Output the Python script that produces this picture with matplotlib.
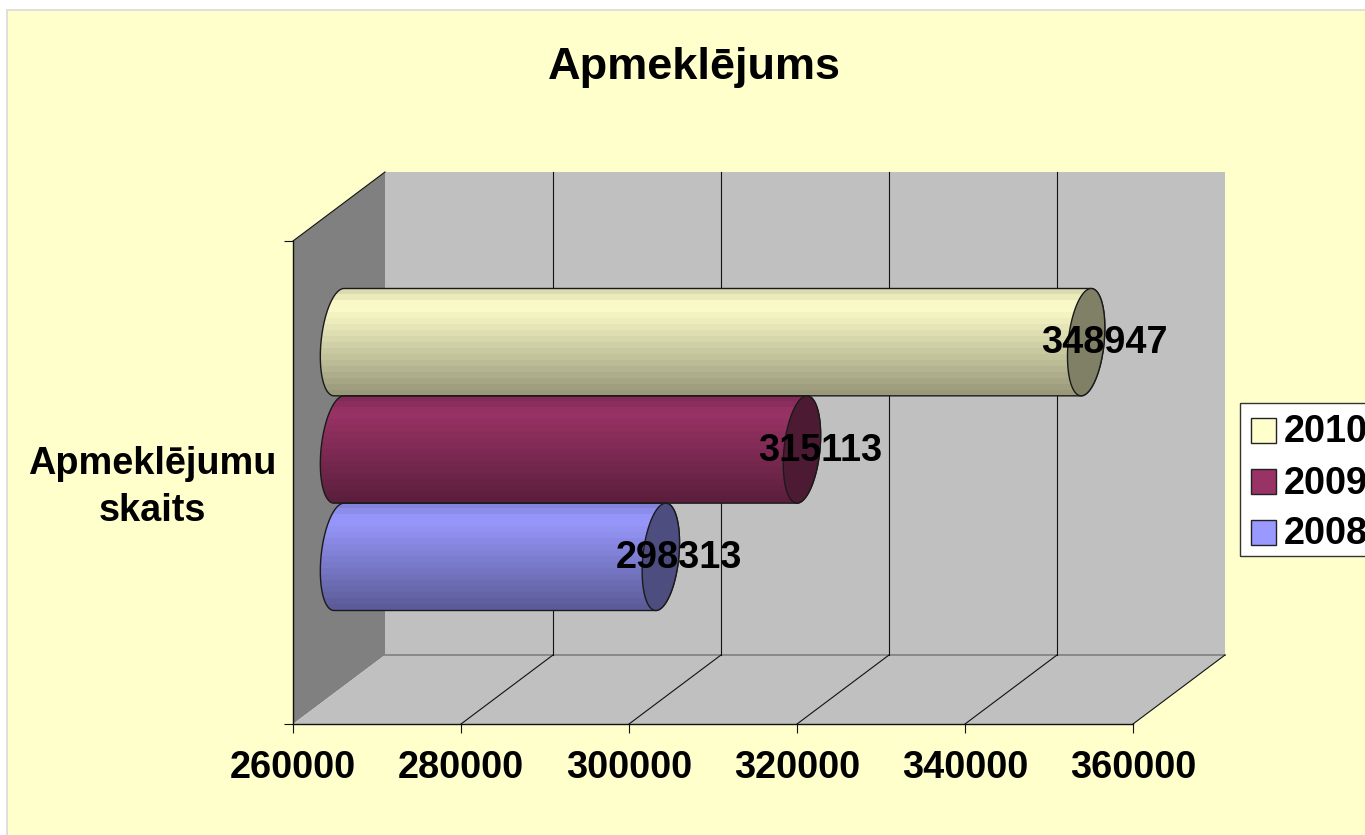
import numpy as np
import matplotlib
matplotlib.use('Agg')
import matplotlib.pyplot as plt
from matplotlib.patches import PathPatch, Polygon, Rectangle
from matplotlib.path import Path
from matplotlib.transforms import Affine2D, IdentityTransform

plt.rcParams['font.family'] = ['Liberation Sans', 'DejaVu Sans']
plt.rcParams['font.weight'] = 'bold'

# Data
title = 'Apmeklējums'
category = 'Apmeklējumu\nskaits'
years = ['2008', '2009', '2010']
values = [298313, 315113, 348947]
x_ticks = [260000, 280000, 300000, 320000, 340000, 360000]

colors = ['#9999ff', '#993366', '#ffffcc']
cap_colors = ['#4d4d80', '#4d1a33', '#808066']

W, H = 1365, 835
DEPTH_X, DEPTH_Y = 92, 69
FONT = 27.3


def px_x(x):
    return x / W


def px_y(y):
    return 1 - y / H


fig = plt.figure(figsize=(W / 100, H / 100), dpi=100, facecolor='white')
fig.add_artist(Rectangle((px_x(7), -0.01), 1, px_y(10) + 0.01, transform=fig.transFigure,
                         facecolor='#ffffcc', edgecolor='#d9d9d9', linewidth=1.2, zorder=-1))

ax = fig.add_axes([px_x(293), px_y(724), 840 / W, 483 / H])
ax.patch.set_visible(False)
ax.autoscale(False)
ax.set_xlim(x_ticks[0], x_ticks[-1])
ax.set_ylim(-1.25, 3.25)
x0, x1 = ax.get_xlim()
y0, y1 = ax.get_ylim()

# Walls and floor of the fake 3D box
back = ax.transData + Affine2D().translate(DEPTH_X, DEPTH_Y)
mid = ax.transData + Affine2D().translate(DEPTH_X / 2, DEPTH_Y / 2 - 1.5)
ax.add_patch(Polygon([(x0, y0), (x1, y0), (x1, y1), (x0, y1)], transform=back,
                     facecolor='#c0c0c0', edgecolor='none', clip_on=False, zorder=1))
corner = ax.transData.transform([(x0, y0), (x0, y1), (x1, y0)])
back_corner = back.transform([(x0, y0), (x0, y1), (x1, y0)])
ax.add_patch(Polygon([corner[1], back_corner[1], back_corner[0], corner[0]],
                     transform=IdentityTransform(), facecolor='#808080',
                     edgecolor='none', clip_on=False, zorder=1.1))
ax.add_patch(Polygon([corner[0], corner[2], back_corner[2], back_corner[0]],
                     transform=IdentityTransform(), facecolor='#c0c0c0',
                     edgecolor='none', clip_on=False, zorder=1.1))
ax.plot([x0, x1], [y0, y0], transform=back, color='#808080', lw=1.2, clip_on=False, zorder=1.2)

# Grid lines on back wall and floor
for t in x_ticks:
    if t != x0:
        p = ax.transData.transform((t, y0))
        q = back.transform((t, y0))
        ax.plot([p[0], q[0]], [p[1], q[1]], transform=IdentityTransform(),
                color='#111111', lw=0.8, clip_on=False, zorder=1.3)
    if t != x0 and t != x1:
        ax.plot([t, t], [y0, y1], transform=back, color='#111111', lw=0.8,
                clip_on=False, zorder=1.3)
ax.plot([corner[1][0], back_corner[1][0]], [corner[1][1], back_corner[1][1]],
        transform=IdentityTransform(), color='#111111', lw=0.8, clip_on=False, zorder=1.3)

# Cylinders
factors = np.interp(np.linspace(0, 1, 18), [0, 0.14, 1], [0.86, 1.0, 0.6])


def ellipse_points(cx, cy, a, b, s, t):
    return np.column_stack([cx + a * np.cos(t) + s * np.sin(t), cy + b * np.sin(t)])


for i, (val, col, cap) in enumerate(zip(values, colors, cap_colors)):
    left = mid.transform((x0, i - 0.5))
    right = mid.transform((val, i - 0.5))
    top = mid.transform((x0, i + 0.5))
    b = (top[1] - left[1]) / 2
    cy = left[1] + b
    a, s = 18, 5
    t_left = np.linspace(np.pi / 2, 3 * np.pi / 2, 50)
    t_right = np.linspace(-np.pi / 2, np.pi / 2, 50)
    outline = np.vstack([ellipse_points(left[0], cy, a, b, s, t_left),
                         ellipse_points(right[0], cy, a, b, s, t_right)])
    body = PathPatch(Path(np.vstack([outline, outline[:1]]), closed=True),
                     transform=IdentityTransform(), facecolor='none',
                     edgecolor='#1a1a1a', lw=1.0, clip_on=False, zorder=3.2)
    ax.add_patch(body)
    rgb = np.array(matplotlib.colors.to_rgb(col))
    grad = factors[:, None, None] * rgb[None, None, :]
    clip = PathPatch(Path(np.vstack([outline, outline[:1]]), closed=True),
                     transform=IdentityTransform(), facecolor='none', edgecolor='none')
    ax.add_patch(clip)
    im = ax.imshow(grad, extent=(left[0] - a - 5, right[0] + a + 5, cy - b, cy + b),
                   transform=IdentityTransform(), aspect='auto', origin='upper',
                   interpolation='nearest', zorder=3)
    im.set_clip_path(clip)
    t_all = np.linspace(0, 2 * np.pi, 100)
    ax.add_patch(Polygon(ellipse_points(right[0], cy, a, b, s, t_all),
                         transform=IdentityTransform(), facecolor=cap,
                         edgecolor='#1a1a1a', lw=1.0, clip_on=False, zorder=3.3))
    ax.annotate(str(val), xy=(val, i), xycoords=mid,
                xytext=(a, -1), textcoords='offset pixels', ha='center', va='center',
                fontsize=FONT, fontweight='bold', color='black', zorder=5)

ax.set_xlim(x0, x1)
ax.set_ylim(y0, y1)

# Axes
for side in ['top', 'right']:
    ax.spines[side].set_visible(False)
for side in ['left', 'bottom']:
    ax.spines[side].set_linewidth(1.0)
    ax.spines[side].set_color('#111111')
    ax.spines[side].set_zorder(2)
ax.set_xticks(x_ticks)
ax.set_xticklabels([str(t) for t in x_ticks], fontsize=FONT, fontweight='bold')
ax.set_yticks([y0, y1])
ax.set_yticklabels(['', ''])
ax.tick_params(axis='both', length=6.5, width=0.8, color='#111111')
ax.tick_params(axis='x', pad=12)
ax.set_ylabel(category, rotation=0, ha='center', va='center', fontsize=FONT,
              fontweight='bold', linespacing=1.39)
ax.yaxis.set_label_coords((152 - 293) / 840, 0.5 - 5 / 483)

fig.text(px_x(694), px_y(68), title, ha='center', va='center', fontsize=32.5, fontweight='bold')

# Legend runs off the right edge like the original
fig.add_artist(Rectangle((px_x(1240), px_y(556)), 0.2, 153 / H, transform=fig.transFigure,
                         facecolor='white', edgecolor='#333333', linewidth=1.0, zorder=4))
for row, (year, col) in enumerate(zip(years[::-1], colors[::-1])):
    yc = 430.5 + 51 * row
    fig.add_artist(Rectangle((px_x(1251), px_y(yc + 12.5)), 25 / W, 25 / H,
                             transform=fig.transFigure, facecolor=col,
                             edgecolor='#222222', linewidth=1.0, zorder=5))
    fig.text(px_x(1284), px_y(yc + 2), year, ha='left', va='center', fontsize=FONT,
             fontweight='bold', zorder=5)

fig.savefig('out.png', dpi=100)
